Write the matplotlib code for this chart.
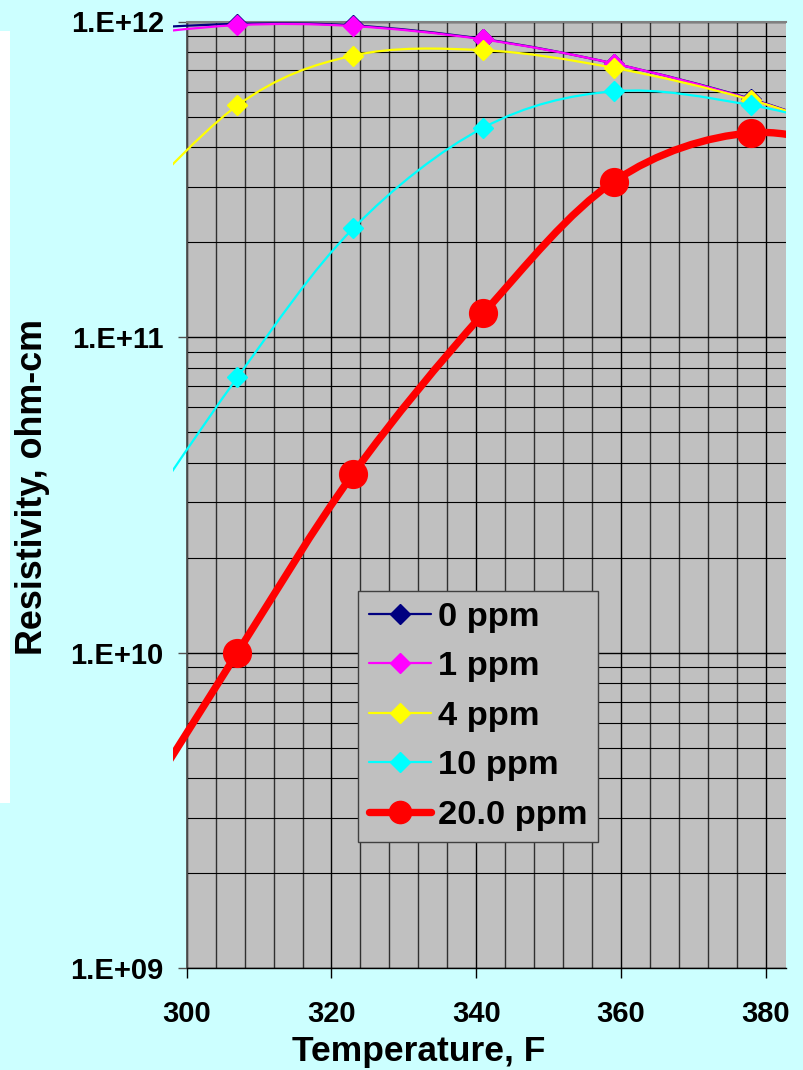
import numpy as np
import matplotlib.pyplot as plt
from matplotlib.path import Path
from matplotlib.patches import PathPatch, Rectangle
from matplotlib.lines import Line2D
from matplotlib.ticker import MultipleLocator, LogLocator, NullFormatter

# temperatures (F); the first and last points lie just outside the axis range
temps = [289, 307, 323, 341, 359, 378, 396]

ppm_0 = [9.40e11, 9.83e11, 9.72e11, 8.80e11, 7.36e11, 5.68e11, 4.10e11]
ppm_1 = [8.90e11, 9.74e11, 9.67e11, 8.77e11, 7.36e11, 5.66e11, 4.10e11]
ppm_4 = [2.14e11, 5.42e11, 7.80e11, 8.11e11, 7.13e11, 5.64e11, 4.10e11]
ppm_10 = [1.86e10, 7.45e10, 2.21e11, 4.61e11, 6.01e11, 5.43e11, 4.30e11]
ppm_20 = [2.20e9, 1.00e10, 3.69e10, 1.19e11, 3.11e11, 4.44e11, 3.70e11]

series_labels = ['0 ppm', '1 ppm', '4 ppm', '10 ppm', '20.0 ppm']
x_ticks = [300, 320, 340, 360, 380]
y_ticks = [1e9, 1e10, 1e11, 1e12]
y_tick_labels = ['1.E+09', '1.E+10', '1.E+11', '1.E+12']

BG = '#CCFFFF'
PLOT_BG = '#C0C0C0'
FONT = 'Liberation Sans'


def smooth_path(xs, ys):
    """Excel-like smoothed line as cubic Bezier segments (built in x / log10 y space)."""
    px = np.asarray(xs, float)
    py = np.log10(ys)
    n = len(px)
    verts = [(px[0], py[0])]
    codes = [Path.MOVETO]
    for i in range(n - 1):
        i0 = max(i - 1, 0)
        i3 = min(i + 2, n - 1)
        c1 = (px[i] + (px[i + 1] - px[i0]) / 6, py[i] + (py[i + 1] - py[i0]) / 6)
        c2 = (px[i + 1] - (px[i3] - px[i]) / 6, py[i + 1] - (py[i3] - py[i]) / 6)
        verts += [c1, c2, (px[i + 1], py[i + 1])]
        codes += [Path.CURVE4] * 3
    verts = [(vx, 10 ** vy) for vx, vy in verts]
    return Path(verts, codes)


fig = plt.figure(figsize=(8.04, 10.70), dpi=100, facecolor=BG)
# white strip on the left edge
fig.patches.append(Rectangle((0, 267 / 1070), 10 / 804, 772 / 1070,
                             transform=fig.transFigure, facecolor='white',
                             edgecolor='none', zorder=0))

ax = fig.add_axes([186.7 / 804, 101.7 / 1070, 599.3 / 804, 946.8 / 1070])
ax.set_facecolor(PLOT_BG)
ax.set_yscale('log')
ax.set_xlim(300, 382.8)
ax.set_ylim(1e9, 1e12)

ax.xaxis.set_major_locator(MultipleLocator(20))
ax.xaxis.set_minor_locator(MultipleLocator(4))
ax.yaxis.set_minor_locator(LogLocator(base=10, subs=np.arange(2, 10)))
ax.yaxis.set_minor_formatter(NullFormatter())
ax.set_xticks(x_ticks)
ax.set_xticklabels([str(t) for t in x_ticks])
ax.set_yticks(y_ticks)
ax.set_yticklabels(y_tick_labels)

ax.set_axisbelow(True)
ax.grid(True, which='major', axis='both', color='black', lw=1.0)
ax.grid(True, which='minor', axis='y', color='black', lw=0.8)
ax.grid(True, which='minor', axis='x', color='#303030', lw=1.0)

ax.tick_params(axis='y', which='major', direction='out', length=6.5, width=1,
               color='#505050', pad=10, labelsize=21)
ax.tick_params(axis='x', which='major', direction='out', length=7, width=1,
               color='black', pad=16, labelsize=21)
ax.tick_params(which='minor', length=0)
for lab in ax.get_xticklabels() + ax.get_yticklabels():
    lab.set_fontfamily(FONT)
    lab.set_fontweight('bold')

ax.spines['right'].set_visible(False)
ax.spines['top'].set_color('#808080')
ax.spines['top'].set_linewidth(1.5)
ax.spines['left'].set_color('#505050')
ax.spines['left'].set_linewidth(1.3)
ax.spines['bottom'].set_color('black')
ax.spines['bottom'].set_linewidth(1.0)

series = [ppm_0, ppm_1, ppm_4, ppm_10, ppm_20]
colors = ['#000080', '#FF00FF', '#FFFF00', '#00FFFF', '#FF0000']
widths = [1.6, 1.6, 1.6, 1.6, 5.3]
markers = ['D', 'D', 'D', 'D', 'o']
msizes = [10, 10, 10, 10, 20]

xmin, xmax = ax.get_xlim()
handles = []
for i, (vals, c, lw, m, ms, lab) in enumerate(zip(series, colors, widths, markers,
                                                   msizes, series_labels)):
    patch = PathPatch(smooth_path(temps, vals), facecolor='none', edgecolor=c,
                      lw=lw, capstyle='round', joinstyle='round',
                      transform=ax.transData, zorder=3 + i)
    ax.add_patch(patch)
    # Excel lets the lines run a little past the left edge of the plot area
    patch.set_clip_path(Rectangle((-14 / 599.3, -0.2), 1 + 14 / 599.3, 1.4,
                                  transform=ax.transAxes))
    xs = [t for t in temps if xmin <= t <= xmax]
    ys = [v for t, v in zip(temps, vals) if xmin <= t <= xmax]
    ax.plot(xs, ys, ls='none', marker=m, ms=ms, color=c, mec=c,
            clip_on=False, zorder=3.5 + i)
    handles.append(Line2D([], [], color=c, lw=lw, marker=m,
                          ms=(10 if m == 'D' else 16), mec=c,
                          solid_capstyle='round'))

leg = ax.legend(handles, series_labels, loc='upper left',
                bbox_to_anchor=((358 - 186.7) / 599.3, (968.3 - 591) / 946.8),
                borderaxespad=0, frameon=True, fancybox=False, framealpha=1,
                facecolor=PLOT_BG, edgecolor='#404040', handlelength=1.8,
                handletextpad=0.2, labelspacing=0.53, borderpad=0.32,
                prop={'family': FONT, 'weight': 'bold', 'size': 24.8})
leg.get_frame().set_linewidth(1.0)
leg.set_zorder(20)

ax.set_xlabel('Temperature, F', fontfamily=FONT, fontweight='bold', fontsize=25.5)
ax.xaxis.set_label_coords((419 - 186.7) / 599.3, (968.3 - 1051) / 946.8)
ax.xaxis.label.set_va('center')
ax.set_ylabel('Resistivity, ohm-cm', fontfamily=FONT, fontweight='bold', fontsize=25.8)
ax.yaxis.set_label_coords((33 - 186.7) / 599.3, (968.3 - 487) / 946.8)
ax.yaxis.label.set_va('center')

fig.savefig('out.png', dpi=100, facecolor=BG)
